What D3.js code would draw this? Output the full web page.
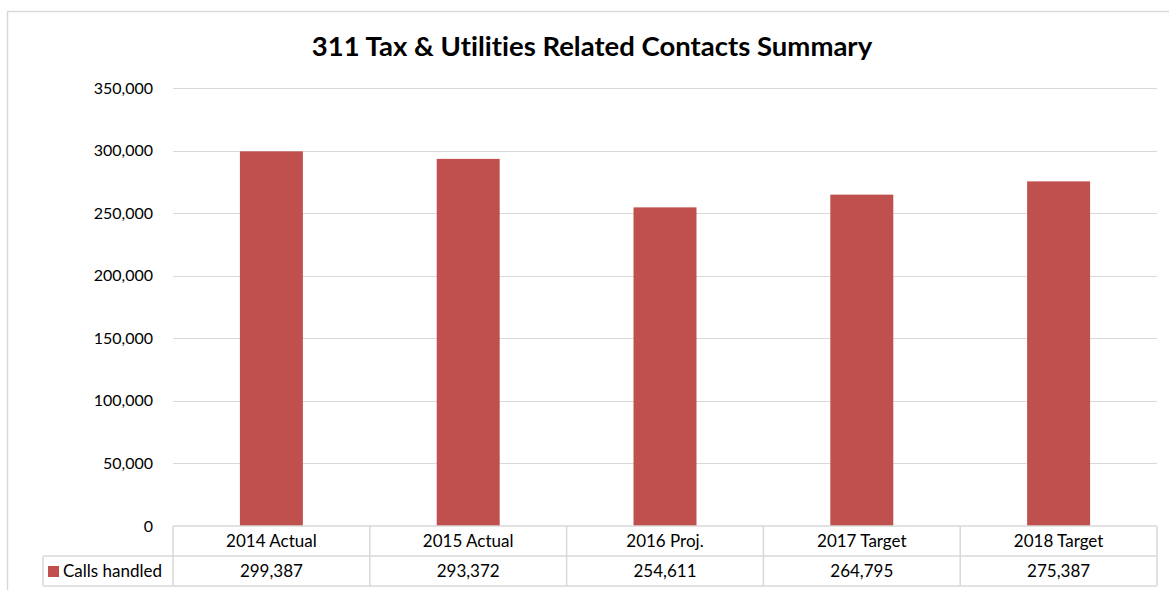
<!DOCTYPE html>
<html>
<head>
<meta charset="utf-8">
<script src="https://cdn.jsdelivr.net/npm/d3@7"></script>
<style>
  body { margin: 0; background: #fff; }
  text { font-family: Lato, "Open Sans", sans-serif; fill: #000; font-variant-ligatures: none; }
</style>
</head>
<body>
<div id="chart"></div>
<script>
// chart data
var categories = ["2014 Actual", "2015 Actual", "2016 Proj.", "2017 Target", "2018 Target"];
var callsHandled = [299387, 293372, 254611, 264795, 275387];
var seriesName = "Calls handled";
var yTicks = [0, 50000, 100000, 150000, 200000, 250000, 300000, 350000];
var title = "311 Tax & Utilities Related Contacts Summary";

var width = 1169, height = 590;
var margin = {left: 173, right: 12, top: 88, bottom: 64};
var barColor = "#C0504D";
var lineColor = "#D9D9D9";

var svg = d3.select("#chart").append("svg")
  .attr("width", width)
  .attr("height", height);

// outer chart border
svg.append("rect")
  .attr("x", 7.5).attr("y", 11.5)
  .attr("width", width + 10).attr("height", height + 10)
  .style("fill", "#fff")
  .style("stroke", lineColor)
  .style("stroke-width", "1.5px");

var x = d3.scaleBand()
  .domain(categories)
  .range([margin.left, width - margin.right])
  .paddingInner(0).paddingOuter(0);

var y = d3.scaleLinear()
  .domain([0, 350000])
  .range([height - margin.bottom, margin.top]);

// title
svg.append("text")
  .attr("x", 592)
  .attr("y", 56)
  .attr("text-anchor", "middle")
  .style("font-size", "27.5px")
  .style("font-weight", "bold")
  .text(title);

// gridlines
svg.append("g").selectAll("line")
  .data(yTicks.slice(1))
  .enter().append("line")
  .attr("x1", margin.left).attr("x2", width - margin.right)
  .attr("y1", function(d) { return Math.round(y(d)) + 0.5; })
  .attr("y2", function(d) { return Math.round(y(d)) + 0.5; })
  .style("stroke", lineColor)
  .style("stroke-width", "1px");

// y axis labels
var yAxis = d3.axisLeft(y)
  .tickValues(yTicks)
  .tickSize(0)
  .tickPadding(20)
  .tickFormat(d3.format(","));

var yg = svg.append("g")
  .attr("transform", "translate(" + margin.left + ",0)")
  .call(yAxis);
yg.select(".domain").remove();
yg.selectAll("text")
  .style("font-size", "16px")
  .style("font-family", "Lato, 'Open Sans', sans-serif");

// bars
var barW = x.bandwidth() * 0.32;
svg.append("g").selectAll("rect")
  .data(callsHandled)
  .enter().append("rect")
  .attr("x", function(d, i) { return x(categories[i]) + (x.bandwidth() - barW) / 2; })
  .attr("width", barW)
  .attr("y", function(d) { return y(d); })
  .attr("height", function(d) { return y(0) - y(d); })
  .style("fill", barColor);

// data table
var rowH = 30;
var tableTop = y(0);
var legendLeft = 43;
var table = svg.append("g").attr("class", "table");

function hline(x1, x2, yy) {
  table.append("line")
    .attr("x1", x1).attr("x2", x2)
    .attr("y1", yy).attr("y2", yy)
    .style("stroke", lineColor).style("stroke-width", "1.5px");
}
function vline(xx, y1, y2) {
  table.append("line")
    .attr("x1", xx).attr("x2", xx)
    .attr("y1", y1).attr("y2", y2)
    .style("stroke", lineColor).style("stroke-width", "1.5px");
}

hline(margin.left, width - margin.right, tableTop);
hline(legendLeft, width - margin.right, tableTop + rowH);
hline(legendLeft, width - margin.right, tableTop + rowH * 2);
vline(legendLeft, tableTop + rowH, tableTop + rowH * 2);
categories.forEach(function(c) {
  vline(x(c), tableTop, tableTop + rowH * 2);
});
vline(width - margin.right, tableTop, tableTop + rowH * 2);

// category header
table.selectAll(".cat")
  .data(categories)
  .enter().append("text")
  .attr("class", "cat")
  .attr("x", function(d) { return x(d) + x.bandwidth() / 2; })
  .attr("y", tableTop + rowH / 2)
  .attr("dy", "0.35em")
  .attr("text-anchor", "middle")
  .style("font-size", "17px")
  .text(function(d) { return d; });

// values row
table.selectAll(".val")
  .data(callsHandled)
  .enter().append("text")
  .attr("class", "val")
  .attr("x", function(d, i) { return x(categories[i]) + x.bandwidth() / 2; })
  .attr("y", tableTop + rowH * 1.5)
  .attr("dy", "0.35em")
  .attr("text-anchor", "middle")
  .style("font-size", "17px")
  .text(d3.format(","));

// legend key
table.append("rect")
  .attr("x", 48).attr("y", tableTop + rowH + 10)
  .attr("width", 11).attr("height", 11)
  .style("fill", barColor);
table.append("text")
  .attr("x", 63)
  .attr("y", tableTop + rowH * 1.5)
  .attr("dy", "0.35em")
  .style("font-size", "17px")
  .text(seriesName);
</script>
</body>
</html>
